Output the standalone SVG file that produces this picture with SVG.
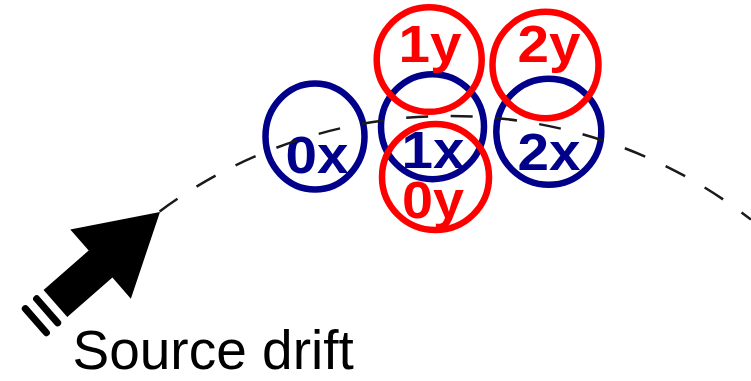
<svg xmlns="http://www.w3.org/2000/svg" width="751" height="381" viewBox="0 0 751 381">
<style>
.bx{fill:none;stroke:#00008b;stroke-width:6.5}
.ry{fill:none;stroke:#ff0000;stroke-width:6.5}
.tb{font-family:"Liberation Sans",Arial,sans-serif;font-weight:bold;font-size:51px;text-anchor:middle;fill:#00008b}
.tr{font-family:"Liberation Sans",Arial,sans-serif;font-weight:bold;font-size:51px;text-anchor:middle;fill:#ff0000}
.lbl{font-family:"Liberation Sans",Arial,sans-serif;font-size:55px;fill:#000}
.arc{fill:none;stroke:#1a1a1a;stroke-width:2.5;stroke-dasharray:22 22.5}
</style>
<rect width="751" height="381" fill="#fff"/>
<g id="node-0x"><ellipse class="bx" cx="315" cy="136.5" rx="49.5" ry="53"/><text class="tb" x="317" y="173" textLength="63" lengthAdjust="spacingAndGlyphs">0x</text></g>
<g id="node-1x"><ellipse class="bx" cx="432.5" cy="126.7" rx="51.5" ry="52.5"/><text class="tb" x="433" y="168" textLength="63" lengthAdjust="spacingAndGlyphs">1x</text></g>
<g id="node-2x"><ellipse class="bx" cx="548.8" cy="131.7" rx="52.5" ry="53"/><text class="tb" x="549" y="170" textLength="63" lengthAdjust="spacingAndGlyphs">2x</text></g>
<g id="node-1y"><ellipse class="ry" cx="429.2" cy="59.5" rx="52.5" ry="52.3"/><text class="tr" x="430" y="62" textLength="63" lengthAdjust="spacingAndGlyphs">1y</text></g>
<g id="node-2y"><ellipse class="ry" cx="545.5" cy="65" rx="53" ry="53.2"/><text class="tr" x="549" y="62" textLength="63" lengthAdjust="spacingAndGlyphs">2y</text></g>
<g id="node-0y"><ellipse class="ry" cx="435.5" cy="177" rx="53.5" ry="53"/><text class="tr" x="433" y="218" textLength="62" lengthAdjust="spacingAndGlyphs">0y</text></g>
<g id="connectors">
<path class="arc" d="M159.6,211.4 A489,489 0 0,1 751,219.6"/>
</g>
<g id="source-arrow" transform="translate(160,212) rotate(-41.2)">
<polygon points="0,0 -79,-46 -79,-18 -139,-18 -139,18 -79,18 -79,46" fill="#000"/>
<line x1="-150" y1="-16" x2="-150" y2="16" stroke="#000" stroke-width="7" stroke-linecap="round"/>
<line x1="-165" y1="-16" x2="-165" y2="16" stroke="#000" stroke-width="7" stroke-linecap="round"/>
</g>
<text class="lbl" x="72.5" y="369">Source drift</text>
</svg>
